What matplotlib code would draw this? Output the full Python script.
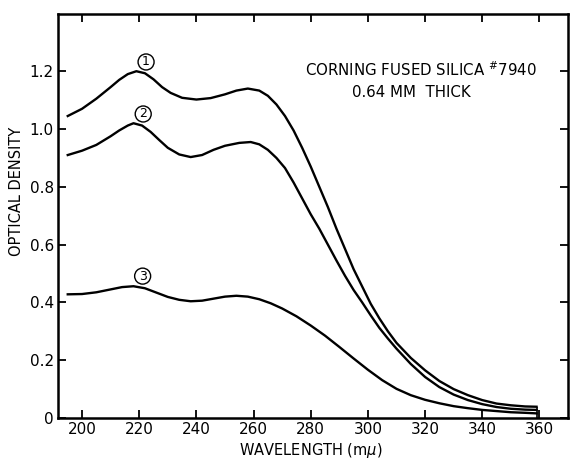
import matplotlib.pyplot as plt

# wavelength (m-mu) and optical density for the three curves
wl1 = [195, 200, 205, 210, 213, 216, 219, 222, 225, 228, 231, 235, 240, 245, 250,
       254, 258, 262, 265, 268, 271, 274, 277, 280, 283, 286, 289, 292, 295, 298,
       301, 304, 307, 310, 315, 320, 325, 330, 335, 340, 345, 350, 355, 359]
od1 = [1.045, 1.07, 1.105, 1.145, 1.17, 1.19, 1.200, 1.193, 1.172, 1.145, 1.125,
       1.108, 1.102, 1.107, 1.12, 1.133, 1.14, 1.133, 1.115, 1.085, 1.045, 0.995,
       0.935, 0.87, 0.80, 0.73, 0.655, 0.585, 0.515, 0.455, 0.395, 0.345, 0.30,
       0.26, 0.208, 0.165, 0.128, 0.10, 0.079, 0.062, 0.050, 0.044, 0.040, 0.039]

wl2 = [195, 200, 205, 210, 213, 216, 218, 221, 224, 227, 230, 234, 238, 242, 246,
       250, 255, 259, 262, 265, 268, 271, 274, 277, 280, 283, 286, 289, 292, 295,
       298, 301, 304, 307, 310, 315, 320, 325, 330, 335, 340, 345, 350, 355, 359]
od2 = [0.91, 0.925, 0.945, 0.975, 0.995, 1.012, 1.02, 1.012, 0.99, 0.962, 0.935,
       0.912, 0.903, 0.91, 0.928, 0.942, 0.952, 0.955, 0.947, 0.928, 0.9, 0.865,
       0.815, 0.76, 0.705, 0.655, 0.60, 0.545, 0.492, 0.443, 0.40, 0.355, 0.312,
       0.275, 0.24, 0.187, 0.142, 0.107, 0.081, 0.062, 0.048, 0.038, 0.032, 0.029,
       0.028]

wl3 = [195, 200, 205, 210, 214, 218, 222, 226, 230, 234, 238, 242, 246, 250, 254,
       258, 262, 266, 270, 275, 280, 285, 290, 295, 300, 305, 310, 315, 320, 325,
       330, 335, 340, 345, 350, 355, 359]
od3 = [0.428, 0.429, 0.435, 0.445, 0.453, 0.456, 0.449, 0.434, 0.419, 0.409, 0.404,
       0.406, 0.413, 0.42, 0.423, 0.42, 0.411, 0.397, 0.379, 0.352, 0.32, 0.285,
       0.246, 0.206, 0.167, 0.131, 0.101, 0.079, 0.063, 0.051, 0.041, 0.034, 0.028,
       0.024, 0.020, 0.018, 0.016]

curve_labels = ["1", "2", "3"]
label_pos = [(222.4, 1.232), (221.4, 1.052), (221.2, 0.491)]

x_ticks = [200, 220, 240, 260, 280, 300, 320, 340, 360]
y_ticks = [0, 0.2, 0.4, 0.6, 0.8, 1.0, 1.2]
y_tick_labels = ["0", "0.2", "0.4", "0.6", "0.8", "1.0", "1.2"]

fig = plt.figure(figsize=(5.7, 4.59), dpi=100)
ax = fig.add_axes([0.1018, 0.0893, 0.8947, 0.8802])

for wl, od in [(wl1, od1), (wl2, od2), (wl3, od3)]:
    ax.plot(wl, od, color="black", lw=1.7, solid_joinstyle="round")

# closing line at the end of the curves
ax.vlines(wl1[-1], 0, od1[-1], color="black", lw=1.2)

for txt, (x, y) in zip(curve_labels, label_pos):
    ax.text(x, y, txt, ha="center", va="center", fontsize=9,
            bbox=dict(boxstyle="circle,pad=0.12", fc="white", ec="black", lw=1.0))

ax.text(318.4, 1.204, r"CORNING FUSED SILICA $^{\#}$7940", ha="center", va="center",
        fontsize=10.8)
ax.text(315.2, 1.125, "0.64 MM  THICK", ha="center", va="center", fontsize=10.8)

ax.set_xlim(191.6, 370)
ax.set_ylim(0, 1.398)
ax.set_xticks(x_ticks)
ax.set_yticks(y_ticks)
ax.set_yticklabels(y_tick_labels)
ax.tick_params(direction="in", length=6, width=1.3, labelsize=11, top=True, right=True,
               labeltop=False, labelright=False, pad=3)
for s in ax.spines.values():
    s.set_linewidth(1.8)

ax.set_xlabel("WAVELENGTH (m$\\mu$)", fontsize=10.5)
ax.set_ylabel("OPTICAL DENSITY", fontsize=10.5)
ax.xaxis.set_label_coords(0.495, -0.057)
ax.yaxis.set_label_coords(-0.066, 0.56)

fig.savefig("out.png", dpi=100)
